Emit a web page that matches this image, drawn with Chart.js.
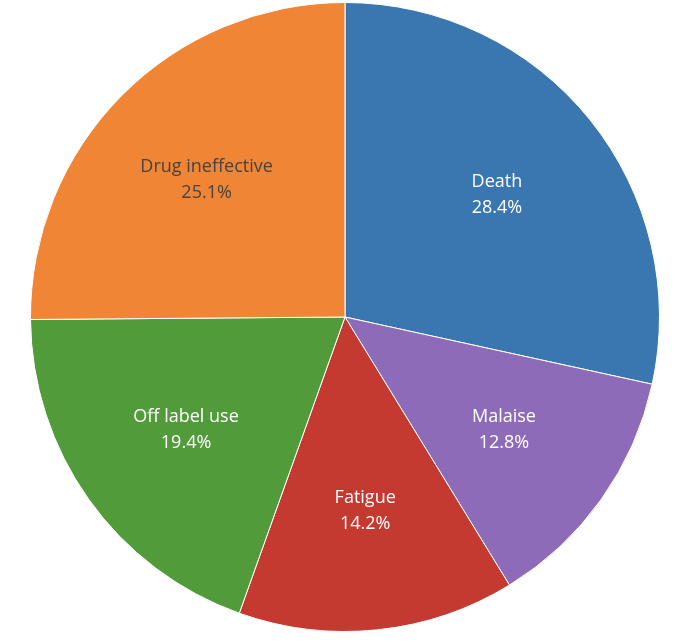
<!DOCTYPE html>
<html><head><meta charset="utf-8">
<script src="https://cdn.jsdelivr.net/npm/chart.js@4"></script>
<style>html,body{margin:0;padding:0;background:#fff}#w{width:698px;height:644px}</style>
</head><body><div id="w"><canvas id="c"></canvas></div>
<script>
const labels = ["Death","Malaise","Fatigue","Off label use","Drug ineffective"];
const values = [28.4,12.8,14.2,19.4,25.1];
const colors = ["#3a76af","#8e6bb8","#c43a31","#529b3b","#ef8535"];
const textColors = ["#fff","#fff","#fff","#fff","#444"];
const labelPlugin = {
  id:'lbl',
  afterDatasetsDraw(chart){
    const ctx=chart.ctx, meta=chart.getDatasetMeta(0);
    const total=values.reduce((a,b)=>a+b,0);
    meta.data.forEach((arc,i)=>{
      const a=(arc.startAngle+arc.endAngle)/2, r=arc.outerRadius*0.62;
      const x=arc.x+Math.cos(a)*r, y=arc.y+Math.sin(a)*r;
      ctx.save();ctx.fillStyle=textColors[i];ctx.font='18px "Open Sans", sans-serif';
      ctx.textAlign='center';ctx.textBaseline='middle';
      ctx.fillText(labels[i],x,y-13);
      ctx.fillText((values[i]/total*100).toFixed(1)+'%',x,y+13);
      ctx.restore();
    });
  }
};
new Chart(document.getElementById('c'),{
  type:'pie',
  data:{labels,datasets:[{data:values,backgroundColor:colors,borderColor:'#fff',borderWidth:1}]},
  options:{responsive:true,maintainAspectRatio:false,animation:false,
    layout:{padding:{left:30,right:38,top:2,bottom:12}},
    plugins:{legend:{display:false},tooltip:{enabled:false}}},
  plugins:[labelPlugin]
});
</script></body></html>
